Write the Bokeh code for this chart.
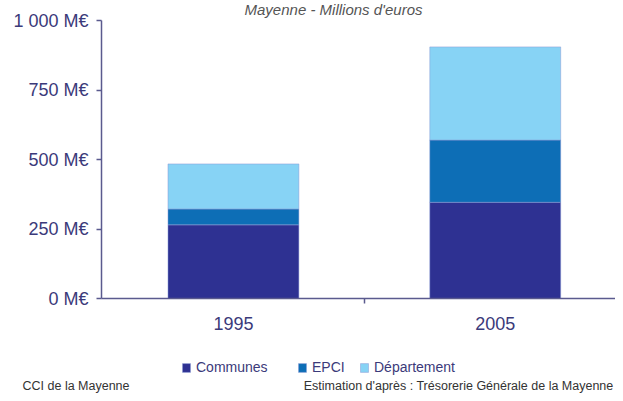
from bokeh.plotting import figure
from bokeh.models import (Range1d, FixedTicker, Legend, LegendItem, Label, ColumnDataSource)
from bokeh.embed import file_html
from bokeh.resources import INLINE

# ---- data ----
years = ["1995", "2005"]
communes = [265, 346]
epci = [57, 224]
departement = [162, 335]
series_names = ["Communes", "EPCI", "Département"]
y_ticks = [0, 250, 500, 750, 1000]
y_tick_labels = ["0 M€", "250 M€", "500 M€", "750 M€", "1 000 M€"]
title_text = "Mayenne - Millions d'euros"
source_left = "CCI de la Mayenne"
source_right = "Estimation d'après : Trésorerie Générale de la Mayenne"

colors = ["#2e3192", "#0d6eb6", "#87d3f5"]
font = "Liberation Sans"
label_color = "#3b3a7a"
axis_color = "#5a5a8e"

W, H = 615, 393
AXIS_X = 101            # pixel column of the value axis
TOP_Y = 20              # pixel row of value 1000
ZERO_Y = 298            # pixel row of value 0
PX_PER_CAT = 261.8      # pixels per category
PX_PER_VAL = (ZERO_Y - TOP_Y) / 1000.0
X_AT_AXIS = -0.004      # category coordinate at the value axis

# the plotting frame covers the whole canvas; axes are pinned inside it
x_start = X_AT_AXIS - AXIS_X / PX_PER_CAT
x_end = X_AT_AXIS + (W - AXIS_X) / PX_PER_CAT
y_start = -(H - ZERO_Y) / PX_PER_VAL
y_end = ZERO_Y / PX_PER_VAL


def dx(px):
    return x_start + px / PX_PER_CAT


def dy(py):
    return (ZERO_Y - py) / PX_PER_VAL


xpos = [i + 0.5 for i in range(len(years))]
src = ColumnDataSource(dict(x=xpos, Communes=communes, EPCI=epci, Département=departement))

p = figure(width=W, height=H, output_backend="svg", toolbar_location=None,
           x_range=Range1d(x_start, x_end), y_range=Range1d(y_start, y_end),
           min_border=0)
p.outline_line_color = None
p.grid.visible = False

rs = p.vbar_stack(series_names, x="x", width=0.5, source=src, color=colors,
                  line_color="#8a9ad6", line_alpha=0.5, line_width=1)

# value axis
ya = p.yaxis[0]
ya.fixed_location = X_AT_AXIS
ya.bounds = (0, 1000)
ya.ticker = FixedTicker(ticks=y_ticks)
ya.major_label_overrides = {t: l for t, l in zip(y_ticks, y_tick_labels)}
ya.minor_tick_line_color = None
ya.major_tick_in = 0
ya.major_tick_out = 5
ya.major_label_standoff = 8
ya.axis_line_color = axis_color
ya.axis_line_width = 1.5
ya.major_tick_line_color = axis_color
ya.major_tick_line_width = 1.5
ya.major_label_text_font = font
ya.major_label_text_font_size = "18px"
ya.major_label_text_color = label_color

# category axis at value 0
xa = p.xaxis[0]
xa.fixed_location = 0
xa.bounds = (X_AT_AXIS, x_end)
xa.ticker = FixedTicker(ticks=xpos, minor_ticks=[1.0])
xa.major_label_overrides = {x: y for x, y in zip(xpos, years)}
xa.major_tick_in = 0
xa.major_tick_out = 0
xa.minor_tick_in = 0
xa.minor_tick_out = 5
xa.minor_tick_line_color = axis_color
xa.minor_tick_line_width = 1.5
xa.major_label_standoff = 13
xa.axis_line_color = axis_color
xa.axis_line_width = 1.5
xa.major_label_text_font = font
xa.major_label_text_font_size = "18px"
xa.major_label_text_color = label_color

# legends (one per item to reproduce the uneven spacing)
leg_x = [181, 297, 359]
for r, name, lx in zip(rs, series_names, leg_x):
    lg = Legend(items=[LegendItem(label=name, renderers=[r])], location=(lx, 18),
                orientation="horizontal", padding=0, margin=0, spacing=0,
                glyph_width=10, glyph_height=11, label_height=11, label_standoff=5,
                border_line_alpha=0, background_fill_alpha=0,
                label_text_font=font, label_text_font_size="14px",
                label_text_color=label_color)
    p.add_layout(lg, "center")

p.add_layout(Label(x=dx(333), y=dy(0), text=title_text, text_align="center", text_baseline="top",
                   text_font=font, text_font_style="italic", text_font_size="15px",
                   text_color="#555555"))
p.add_layout(Label(x=dx(22), y=dy(392), text=source_left, text_align="left", text_baseline="bottom",
                   text_font=font, text_font_size="12.5px", text_color="#333333"))
p.add_layout(Label(x=dx(613), y=dy(392), text=source_right, text_align="right", text_baseline="bottom",
                   text_font=font, text_font_size="12.5px", text_color="#333333"))

open("out.html", "w").write(file_html(p, INLINE))
